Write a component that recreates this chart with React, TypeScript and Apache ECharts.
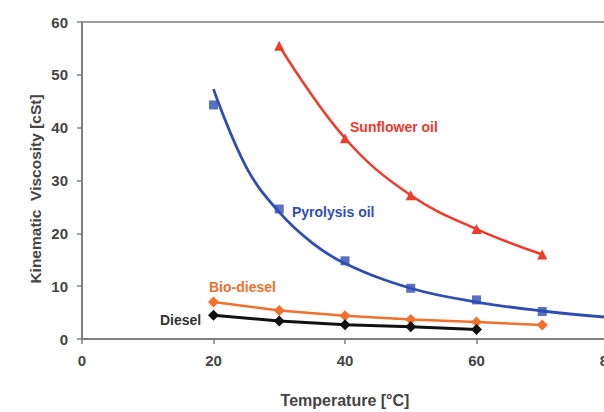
import React, { useEffect, useRef } from "react";
import * as echarts from "echarts";

// Temperatures (°C) at which viscosity was measured
const temps = [20, 30, 40, 50, 60, 70];
const sunflowerTemps = [30, 40, 50, 60, 70];
const dieselTemps = [20, 30, 40, 50, 60];
const pyrolysisTrendTemps = [20, 25, 30, 35, 40, 50, 60, 70, 80];

// Kinematic viscosity (cSt)
const sunflowerOil = [55.5, 38, 27.2, 20.8, 16];
const pyrolysisOil = [44.3, 24.6, 14.8, 9.6, 7.4, 5.2];
const pyrolysisTrend = [47.3, 32.5, 24, 18.2, 14.3, 9.6, 7.0, 5.3, 4.1];
const bioDiesel = [7.0, 5.4, 4.4, 3.7, 3.2, 2.65];
const diesel = [4.5, 3.4, 2.7, 2.3, 1.8];

const xTicks = [0, 20, 40, 60, 80];
const yTicks = [0, 10, 20, 30, 40, 50, 60];

const RED = "#ef3a2c";
const BLUE = "#2f4db3";
const ORANGE = "#f0702e";
const BLACK = "#111111";
const AXIS = "#808080";
const TEXT = "#444444";
const FONT = "'Liberation Sans', Arial, sans-serif";

const zip = (xs: number[], ys: number[]) => xs.map((x, i) => [x, ys[i]]);

export default function App() {
  const ref = useRef<HTMLDivElement>(null);

  useEffect(() => {
    if (!ref.current) return;
    const chart = echarts.init(ref.current, undefined, { renderer: "svg" });

    const label = (text: string, x: number, y: number, color: string) => ({
      type: "text",
      x,
      y,
      style: {
        text,
        fill: color,
        font: `bold 14px ${FONT}`,
        align: "left",
        verticalAlign: "middle",
      },
    });

    chart.setOption({
      animation: false,
      backgroundColor: "#ffffff",
      grid: {
        left: 82,
        top: 22,
        width: 526,
        height: 317,
        outerBoundsMode: "none",
        containLabel: false,
        show: true,
        borderColor: AXIS,
        borderWidth: 1.5,
      },
      xAxis: {
        type: "value",
        min: xTicks[0],
        max: xTicks[xTicks.length - 1],
        interval: 20,
        name: "Temperature [°C]",
        nameLocation: "middle",
        nameGap: 53,
        nameTextStyle: { color: TEXT, fontSize: 16, fontWeight: "bold", fontFamily: FONT },
        axisLine: { lineStyle: { color: AXIS, width: 2 } },
        axisTick: { show: true, length: 5, lineStyle: { color: AXIS, width: 1.5 } },
        axisLabel: { color: TEXT, fontSize: 15, fontWeight: "bold", fontFamily: FONT, margin: 14 },
        splitLine: { show: false },
      },
      yAxis: {
        type: "value",
        min: yTicks[0],
        max: yTicks[yTicks.length - 1],
        interval: 10,
        axisLine: { show: true, lineStyle: { color: AXIS, width: 2 } },
        axisTick: { show: true, length: 5, lineStyle: { color: AXIS, width: 1.5 } },
        axisLabel: { color: TEXT, fontSize: 15, fontWeight: "bold", fontFamily: FONT, margin: 14 },
        splitLine: { show: false },
      },
      graphic: [
        {
          type: "text",
          x: 35,
          y: 189,
          rotation: Math.PI / 2,
          style: {
            text: "Kinematic  Viscosity [cSt]",
            fill: TEXT,
            font: `bold 15.5px ${FONT}`,
            align: "center",
            verticalAlign: "middle",
          },
        },
        label("Sunflower oil", 350, 127, RED),
        label("Pyrolysis oil", 292, 212, BLUE),
        label("Bio-diesel", 209, 287, ORANGE),
        label("Diesel", 160, 320, "#333333"),
      ],
      series: [
        {
          name: "Sunflower oil",
          type: "line",
          data: zip(sunflowerTemps, sunflowerOil),
          smooth: 0.4,
          symbol: "triangle",
          symbolSize: 10,
          lineStyle: { color: RED, width: 2.5 },
          itemStyle: { color: RED },
          z: 3,
        },
        {
          name: "Pyrolysis oil trend",
          type: "line",
          data: zip(pyrolysisTrendTemps, pyrolysisTrend),
          smooth: 0.4,
          showSymbol: false,
          lineStyle: { color: BLUE, width: 2.8 },
          z: 2,
        },
        {
          name: "Pyrolysis oil",
          type: "scatter",
          data: zip(temps, pyrolysisOil),
          symbol: "rect",
          symbolSize: 9,
          itemStyle: { color: BLUE },
          z: 3,
        },
        {
          name: "Bio-diesel",
          type: "line",
          data: zip(temps, bioDiesel),
          symbol: "diamond",
          symbolSize: 11,
          showAllSymbol: true,
          lineStyle: { color: ORANGE, width: 2.5 },
          itemStyle: { color: ORANGE },
          z: 3,
        },
        {
          name: "Diesel",
          type: "line",
          data: zip(dieselTemps, diesel),
          symbol: "diamond",
          symbolSize: 11,
          showAllSymbol: true,
          lineStyle: { color: BLACK, width: 3 },
          itemStyle: { color: BLACK },
          z: 4,
        },
      ],
    });

    return () => chart.dispose();
  }, []);

  return (
    <div
      ref={ref}
      style={{ position: "fixed", left: 0, top: 0, width: 604, height: 412 }}
    />
  );
}
